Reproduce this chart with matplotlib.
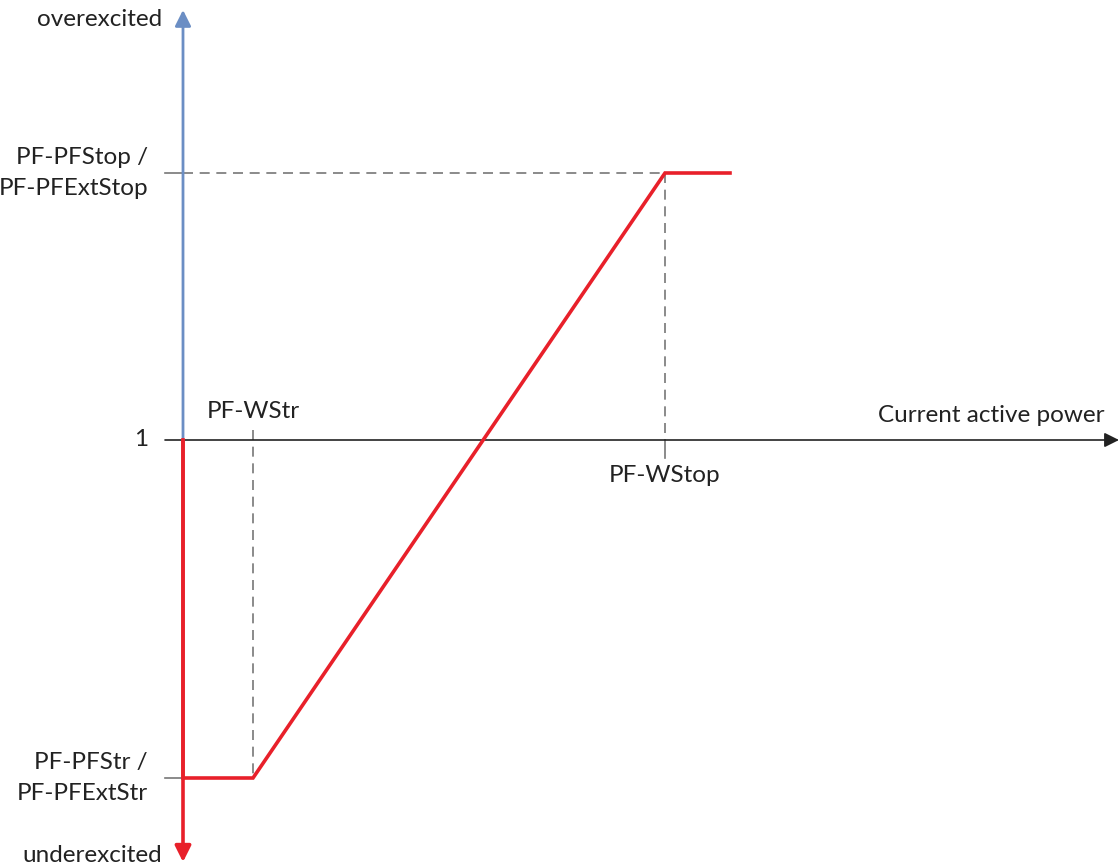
import matplotlib
matplotlib.use("Agg")
import matplotlib.pyplot as plt

# Schematic values (horizontal: active power offset, vertical: cos phi offset from 1)
w_str = 70
w_stop = 482
w_end = 547
x_axis_end = 932
pf_stop = 267
pf_str = -338
y_top = 430
y_bottom = -422

curve_x = [0, 0, w_str, w_stop, w_end]
curve_y = [0, pf_str, pf_str, pf_stop, pf_stop]

y_labels = ["PF-PFStop /\nPF-PFExtStop", "1", "PF-PFStr /\nPF-PFExtStr"]
y_label_vals = [pf_stop, 0, pf_str]
x_labels = ["PF-WStr", "PF-WStop"]
x_label_vals = [w_str, w_stop]

plt.rcParams['font.family'] = ['Lato', 'DejaVu Sans']

fig = plt.figure(figsize=(11.19, 8.65), dpi=100)
ax = fig.add_axes([0, 0, 1, 1])
ax.set_xlim(-183, 936)
ax.set_ylim(-425, 440)
ax.axis('off')

red = '#e8202a'
blue = '#6b8ec4'
gray = '#777777'
black = '#222222'
fs = 17.5

# x axis
ax.annotate('', xy=(x_axis_end + 4, 0), xytext=(-18, 0),
            arrowprops=dict(arrowstyle='-|>', color=black, lw=1.2, mutation_scale=22,
                            shrinkA=0, shrinkB=0))
# blue upper axis
ax.annotate('', xy=(0, y_top), xytext=(0, 0),
            arrowprops=dict(arrowstyle='-|>', color=blue, lw=2.0, mutation_scale=24,
                            shrinkA=0, shrinkB=0))
# red lower axis
ax.annotate('', xy=(0, y_bottom), xytext=(0, 0),
            arrowprops=dict(arrowstyle='-|>', color=red, lw=2.6, mutation_scale=24,
                            shrinkA=0, shrinkB=0))

# helper dashed lines
ax.plot([0, w_stop], [pf_stop, pf_stop], color=gray, lw=1.2, ls=(0, (6, 4)), zorder=1)
ax.plot([w_stop, w_stop], [pf_stop, 0], color=gray, lw=1.2, ls=(0, (6, 4)), zorder=1)
ax.plot([w_str, w_str], [10, pf_str], color=gray, lw=1.2, ls=(0, (6, 4)), zorder=1)
# ticks
for v in [pf_stop, pf_str]:
    ax.plot([-18, 0], [v, v], color=gray, lw=1.2, zorder=1)
ax.plot([w_stop, w_stop], [0, -18], color=gray, lw=1.2, zorder=1)

# characteristic curve
ax.plot(curve_x, curve_y, color=red, lw=2.6, solid_joinstyle='miter', zorder=3)

# labels
for lab, v in zip(y_labels, y_label_vals):
    ax.text(-35, v, lab, ha='right', va='center', fontsize=fs, color=black,
            linespacing=1.6)
ax.text(x_label_vals[0], 18, x_labels[0], ha='center', va='bottom', fontsize=fs, color=black)
ax.text(x_label_vals[1], -25, x_labels[1], ha='center', va='top', fontsize=fs, color=black)
ax.text(922, 14, "Current active power", ha='right', va='bottom', fontsize=fs, color=black)
ax.text(-21, 420, "overexcited", ha='right', va='center', fontsize=fs, color=black)
ax.text(-21, -415, "underexcited", ha='right', va='center', fontsize=fs, color=black)

fig.savefig('out.png', dpi=100)
